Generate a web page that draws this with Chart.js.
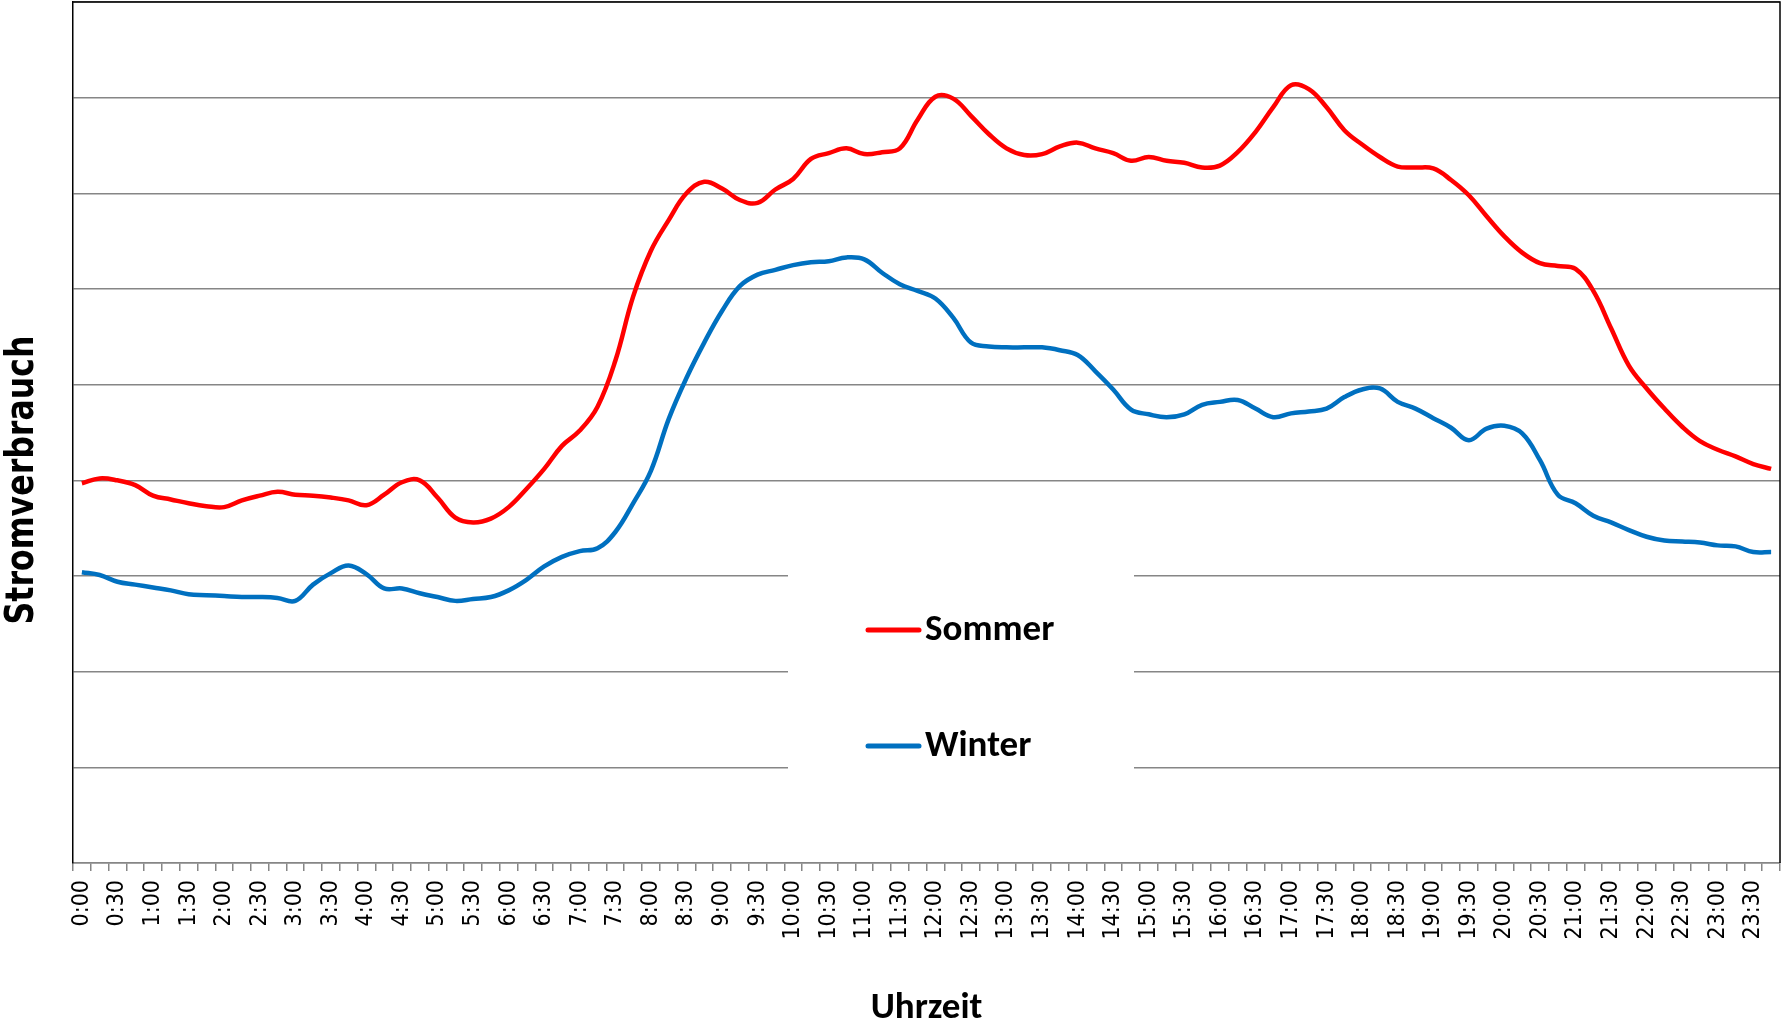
<!DOCTYPE html>
<html>
<head>
<meta charset="utf-8">
<title>Stromverbrauch Sommer / Winter</title>
<script src="https://cdn.jsdelivr.net/npm/chart.js@4.4.1/dist/chart.umd.min.js"></script>
<style>
    html, body { margin: 0; padding: 0; background: #fff; }
</style>
</head>
<body>
<canvas id="lastgang" width="1782" height="1024"></canvas>
<script>
// Uhrzeiten im 15-Minuten-Raster
const uhrzeiten = [
    '0:00','0:15','0:30','0:45','1:00','1:15','1:30','1:45','2:00','2:15','2:30','2:45',
    '3:00','3:15','3:30','3:45','4:00','4:15','4:30','4:45','5:00','5:15','5:30','5:45',
    '6:00','6:15','6:30','6:45','7:00','7:15','7:30','7:45','8:00','8:15','8:30','8:45',
    '9:00','9:15','9:30','9:45','10:00','10:15','10:30','10:45','11:00','11:15','11:30','11:45',
    '12:00','12:15','12:30','12:45','13:00','13:15','13:30','13:45','14:00','14:15','14:30','14:45',
    '15:00','15:15','15:30','15:45','16:00','16:15','16:30','16:45','17:00','17:15','17:30','17:45',
    '18:00','18:15','18:30','18:45','19:00','19:15','19:30','19:45','20:00','20:15','20:30','20:45',
    '21:00','21:15','21:30','21:45','22:00','22:15','22:30','22:45','23:00','23:15','23:30','23:45'
];

// Achsenbeschriftung nur zur vollen und halben Stunde
const beschriftung = uhrzeiten.filter(t => t.endsWith(':00') || t.endsWith(':30'));

const sommer = [
    3.97, 4.02, 4.00, 3.95, 3.84, 3.80, 3.76, 3.73, 3.72, 3.79, 3.84, 3.88, 3.85, 3.84, 3.82, 3.79,
    3.74, 3.85, 3.98, 4.00, 3.82, 3.61, 3.56, 3.60, 3.72, 3.91, 4.12, 4.36, 4.52, 4.77, 5.25, 5.92,
    6.40, 6.72, 7.00, 7.12, 7.05, 6.93, 6.90, 7.04, 7.15, 7.36, 7.42, 7.47, 7.41, 7.43, 7.47, 7.77,
    8.01, 7.99, 7.81, 7.62, 7.47, 7.40, 7.41, 7.49, 7.53, 7.47, 7.42, 7.34, 7.38, 7.34, 7.32, 7.27,
    7.29, 7.43, 7.64, 7.90, 8.13, 8.09, 7.90, 7.66, 7.51, 7.38, 7.28, 7.27, 7.26, 7.14, 6.98, 6.76,
    6.55, 6.38, 6.27, 6.24, 6.21, 5.98, 5.59, 5.20, 4.96, 4.75, 4.56, 4.41, 4.32, 4.25, 4.17, 4.12
];

const winter = [
    3.04, 3.01, 2.94, 2.91, 2.88, 2.85, 2.81, 2.80, 2.79, 2.78, 2.78, 2.77, 2.74, 2.91, 3.03, 3.11,
    3.02, 2.87, 2.87, 2.82, 2.78, 2.74, 2.76, 2.78, 2.85, 2.96, 3.10, 3.20, 3.26, 3.29, 3.46, 3.76,
    4.10, 4.64, 5.07, 5.44, 5.77, 6.03, 6.15, 6.20, 6.25, 6.28, 6.29, 6.33, 6.31, 6.17, 6.05, 5.98,
    5.90, 5.70, 5.44, 5.40, 5.39, 5.39, 5.39, 5.36, 5.31, 5.14, 4.95, 4.74, 4.69, 4.66, 4.69, 4.79,
    4.82, 4.84, 4.75, 4.66, 4.70, 4.72, 4.75, 4.87, 4.95, 4.96, 4.82, 4.75, 4.65, 4.55, 4.42, 4.54,
    4.57, 4.49, 4.21, 3.85, 3.76, 3.63, 3.56, 3.48, 3.41, 3.37, 3.36, 3.35, 3.32, 3.31, 3.25, 3.25
];

const titelFont = 'Carlito, Lato, sans-serif';

// Legende mitten im Diagramm, weisser Kasten ueber den Gitterlinien
const legendeImDiagramm = {
    id: 'legendeImDiagramm',
    beforeDatasetsDraw(chart) {
        const ctx = chart.ctx;
        ctx.save();
        ctx.fillStyle = '#ffffff';
        ctx.fillRect(788, 500, 346, 355);
        chart.data.datasets.forEach((ds, i) => {
            const y = 630 + i * 116;
            ctx.strokeStyle = ds.borderColor;
            ctx.lineWidth = 5;
            ctx.lineCap = 'round';
            ctx.beginPath();
            ctx.moveTo(868, y);
            ctx.lineTo(919, y);
            ctx.stroke();
            ctx.fillStyle = '#000';
            ctx.font = 'bold 37px ' + titelFont;
            ctx.textBaseline = 'middle';
            ctx.fillText(ds.label, 925, y + 1);
        });
        ctx.restore();
    }
};

// Rahmen oben und rechts
const rahmen = {
    id: 'rahmen',
    afterDatasetsDraw(chart) {
        const { ctx, chartArea: a } = chart;
        ctx.save();
        ctx.strokeStyle = '#000';
        ctx.lineWidth = 1.5;
        ctx.beginPath();
        ctx.moveTo(a.left, a.top);
        ctx.lineTo(a.right, a.top);
        ctx.lineTo(a.right, a.bottom);
        ctx.stroke();
        ctx.restore();
    }
};

// Titel der Y-Achse, etwas unterhalb der Mitte wie im Original
const yTitel = {
    id: 'yTitel',
    afterDraw(chart) {
        const ctx = chart.ctx;
        ctx.save();
        ctx.translate(23, 480);
        ctx.rotate(-Math.PI / 2);
        ctx.scale(0.81, 1);
        ctx.font = 'bold 39px "DejaVu Sans"';
        ctx.textAlign = 'center';
        ctx.textBaseline = 'middle';
        ctx.fillStyle = '#000';
        ctx.fillText('Stromverbrauch', 0, 0);
        ctx.restore();
    }
};

new Chart(document.getElementById('lastgang'), {
    type: 'line',
    data: {
        labels: uhrzeiten,
        datasets: [
            { label: 'Sommer', data: sommer, borderColor: '#ff0000', borderWidth: 4.5, tension: 0.4, pointRadius: 0 },
            { label: 'Winter', data: winter, borderColor: '#0070c0', borderWidth: 4.5, tension: 0.4, pointRadius: 0 }
        ]
    },
    options: {
        responsive: false,
        animation: false,
        events: [],
        layout: { padding: { top: 2, right: 2, left: 0, bottom: 0 } },
        plugins: {
            legend: { display: false },
            tooltip: { enabled: false }
        },
        scales: {
            x: {
                offset: true,
                grid: { offset: true, drawOnChartArea: false, color: '#868686', lineWidth: 1.5, tickLength: 8 },
                border: { color: '#868686', width: 1.5 },
                ticks: {
                    autoSkip: false,
                    maxRotation: 90,
                    minRotation: 90,
                    padding: 9,
                    color: '#000',
                    font: { family: '"DejaVu Sans Condensed", "DejaVu Sans"', size: 23 },
                    callback: function(value) {
                        const t = this.getLabelForValue(value);
                        return beschriftung.includes(t) ? t : '';
                    }
                },
                title: {
                    display: true,
                    text: 'Uhrzeit',
                    color: '#000',
                    font: { family: titelFont, size: 37, weight: 'bold', lineHeight: 1 },
                    padding: { top: 0, bottom: -3 }
                },
                afterFit: scale => {
                    scale.height = 161;
                    scale.paddingLeft = 0;
                    scale.paddingRight = 0;
                }
            },
            y: {
                min: 0,
                max: 9,
                ticks: { display: false, stepSize: 1 },
                grid: { color: '#868686', lineWidth: 1.5, drawTicks: false },
                border: { color: '#000', width: 1.5 },
                title: { display: false },
                afterFit: scale => { scale.width = 73; }
            }
        }
    },
    plugins: [legendeImDiagramm, rahmen, yTitel]
});
</script>
</body>
</html>
